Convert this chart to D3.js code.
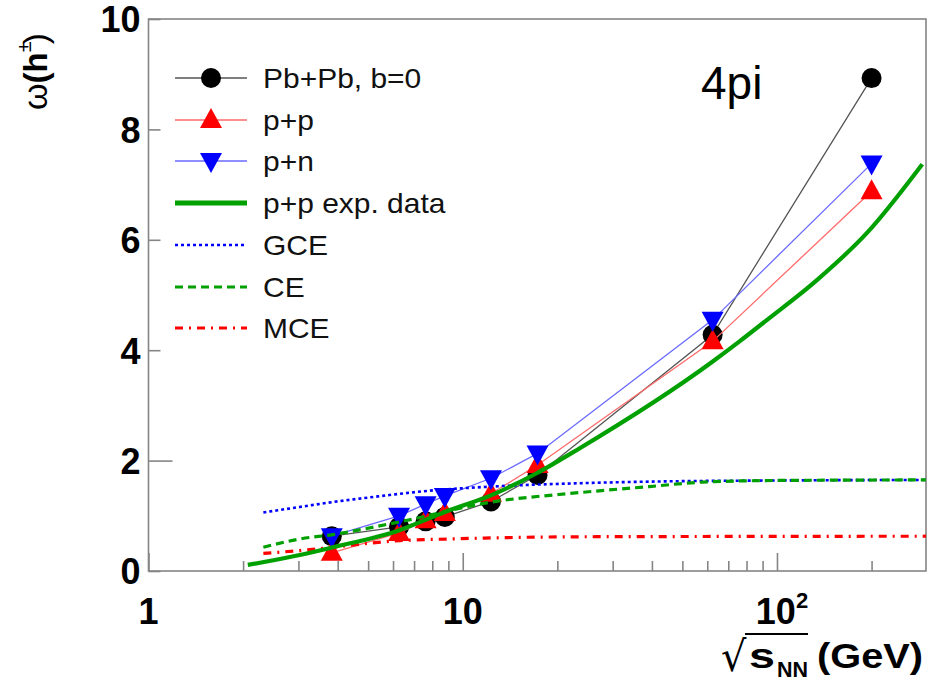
<!DOCTYPE html>
<html>
<head>
<meta charset="utf-8">
<script src="https://cdn.jsdelivr.net/npm/d3@7"></script>
<style>
  html, body { margin: 0; padding: 0; background: #fff; }
  svg { display: block; }
</style>
</head>
<body>
<svg id="chart" width="928" height="682"></svg>
<script>
// Collision energies (GeV) of the model points
const energies = [3.83, 6.27, 7.62, 8.77, 12.3, 17.3, 62.4, 200];
// Scaled variance of charged hadrons
const omegaPbPb = [0.63, 0.80, 0.90, 0.98, 1.26, 1.74, 4.28, 8.93];
const omegaPP   = [0.33, 0.69, 0.92, 1.05, 1.40, 1.92, 4.16, 6.88];
const omegaPN   = [0.63, 1.00, 1.21, 1.36, 1.68, 2.13, 4.55, 7.38];

// p+p experimental parametrisation
const ppExpEnergies = [2.07, 3.03, 3.86, 6.29, 8.77, 12.4, 17.3, 23.5, 62.6, 76, 93, 134, 193, 290];
const ppExpOmega    = [0.11, 0.29, 0.43, 0.74, 1.07, 1.38, 1.78, 2.22, 3.80, 4.16, 4.55, 5.27, 6.12, 7.37];

// Statistical ensembles
const gceEnergies = [2.32, 3.03, 3.86, 5.0, 8.03, 12.4, 23.5, 40, 100, 298];
const gceOmega    = [1.06, 1.16, 1.25, 1.33, 1.46, 1.53, 1.59, 1.62, 1.64, 1.65];
const ceEnergies  = [2.32, 3.03, 3.86, 6.29, 12.4, 23.5, 39.3, 57.9, 100, 298];
const ceOmega     = [0.43, 0.58, 0.66, 0.89, 1.25, 1.42, 1.53, 1.61, 1.64, 1.65];
const mceEnergies = [2.32, 3.03, 3.86, 5.0, 6.29, 9.0, 12.4, 23.5, 298];
const mceOmega    = [0.32, 0.37, 0.43, 0.50, 0.55, 0.58, 0.60, 0.62, 0.63];

// Axis ticks
const yTicks = [0, 2, 4, 6, 8, 10];
const xMajorTicks = [1, 10, 100];
const xMinorTicks = [2, 3, 4, 5, 6, 7, 8, 9, 20, 30, 40, 50, 60, 70, 80, 90, 200];

const legendLabels = ["Pb+Pb, b=0", "p+p", "p+n", "p+p exp. data", "GCE", "CE", "MCE"];

const svg = d3.select("#chart");
const frame = { left: 148.5, right: 926, top: 19, bottom: 571 };

const x = d3.scaleLog().domain([1, 298]).range([frame.left, frame.right]);
const y = d3.scaleLinear().domain([0, 10]).range([frame.bottom, frame.top]);

const FONT = "'Liberation Sans', Arial, Helvetica, sans-serif";
const frameColor = "#858585";

// frame
svg.append("rect")
  .attr("x", frame.left).attr("y", frame.top)
  .attr("width", frame.right - frame.left).attr("height", frame.bottom - frame.top)
  .attr("fill", "none").attr("stroke", frameColor).attr("stroke-width", 1.6);

// y axis (ticks inside, labels outside)
const yAxis = d3.axisLeft(y).tickValues(yTicks).tickSizeInner(-12).tickSizeOuter(0)
  .tickPadding(20).tickFormat(d3.format("d"));
const gy = svg.append("g").attr("transform", `translate(${frame.left},0)`).call(yAxis);
gy.select(".domain").remove();
gy.selectAll(".tick line").attr("stroke", frameColor).attr("stroke-width", 1.6)
  .filter(d => d === 2).attr("x2", 24);
gy.selectAll(".tick text")
  .attr("font-family", FONT).attr("font-weight", "bold").attr("font-size", 36)
  .attr("fill", "#000").attr("x", -8).attr("dy", "0.36em");

// x axis major/minor ticks pointing up into the frame
const xAxisMajor = d3.axisBottom(x).tickValues(xMajorTicks).tickSizeInner(-18).tickSizeOuter(0).tickFormat("");
const gxM = svg.append("g").attr("transform", `translate(0,${frame.bottom})`).call(xAxisMajor);
gxM.select(".domain").remove();
gxM.selectAll(".tick line").attr("stroke", frameColor).attr("stroke-width", 1.6);

const xAxisMinor = d3.axisBottom(x).tickValues(xMinorTicks).tickSizeInner(-10).tickSizeOuter(0).tickFormat("");
const gxm = svg.append("g").attr("transform", `translate(0,${frame.bottom})`).call(xAxisMinor);
gxm.select(".domain").remove();
gxm.selectAll(".tick line").attr("stroke", frameColor).attr("stroke-width", 1.6);

// x tick labels: 1, 10, 10^2
const xLab = svg.append("g").attr("font-family", FONT).attr("font-weight", "bold")
  .attr("font-size", 36).attr("fill", "#000");
xMajorTicks.forEach(v => {
  const exp = Math.round(Math.log10(v));
  const t = xLab.append("text").attr("y", 624).attr("text-anchor", "middle");
  if (exp < 2) {
    t.attr("x", x(v)).text(String(v));
  } else {
    t.attr("x", x(v) + 5);
    t.append("tspan").text("10");
    t.append("tspan").attr("font-size", 22).attr("dy", -16).text(String(exp));
  }
});

// x axis title: sqrt(s_NN) (GeV)
const xt = svg.append("g").attr("fill", "#000");
xt.append("text")
  .attr("font-family", "'DejaVu Sans', sans-serif").attr("font-size", 42)
  .attr("transform", "translate(721,671) scale(0.95,1)")
  .text("√");
xt.append("line").attr("x1", 745).attr("x2", 808).attr("y1", 634).attr("y2", 634)
  .attr("stroke", "#000").attr("stroke-width", 2.2);
const xtitle = xt.append("text")
  .attr("font-family", FONT).attr("font-weight", "bold").attr("font-size", 35);
xtitle.append("tspan").attr("x", 749).attr("y", 668)
  .attr("textLength", 26).attr("lengthAdjust", "spacingAndGlyphs").text("s");
xtitle.append("tspan").attr("x", 777).attr("y", 677).attr("font-size", 22)
  .attr("textLength", 31).attr("lengthAdjust", "spacingAndGlyphs").text("NN");
xtitle.append("tspan").attr("x", 817).attr("y", 668)
  .attr("textLength", 106).attr("lengthAdjust", "spacingAndGlyphs").text("(GeV)");

// y axis title: omega(h^±), reading bottom to top
const ytitle = svg.append("text")
  .attr("transform", "translate(47,110) rotate(-90)")
  .attr("x", 0).attr("y", 0)
  .attr("font-family", FONT).attr("font-size", 31).attr("fill", "#000");
ytitle.append("tspan").attr("font-size", 34).text("ω");
ytitle.append("tspan").attr("font-weight", "bold").attr("font-size", 33).text("(h");
ytitle.append("tspan").attr("font-size", 20).attr("dy", -16).attr("dx", 0).text("±");
ytitle.append("tspan").attr("dy", 16).attr("dx", -3).attr("font-size", 33).text(")");

// "4pi" annotation
svg.append("text").attr("x", 701).attr("y", 99)
  .attr("font-family", FONT).attr("font-size", 46).attr("fill", "#000").text("4pi");

// ---- data series ----
const plot = svg.append("g");
const linePx = d3.line().x(d => d[0]).y(d => d[1]);
const curvePx = d3.line().x(d => d[0]).y(d => d[1]).curve(d3.curveMonotoneX);

function pts(xs, ys) { return xs.map((e, i) => [x(e), y(ys[i])]); }

const triUp = s => `M0,${-s * 0.6}L${s * 0.55},${s * 0.4}L${-s * 0.55},${s * 0.4}Z`;
const triDown = s => `M0,${s * 0.6}L${s * 0.55},${-s * 0.4}L${-s * 0.55},${-s * 0.4}Z`;

function drawMarker(g, type, cx, cy, color) {
  if (type === "circle") {
    g.append("circle").attr("cx", cx).attr("cy", cy).attr("r", 10).attr("fill", color);
  } else {
    g.append("path").attr("d", type === "up" ? triUp(20) : triDown(20))
      .attr("transform", `translate(${cx},${cy})`).attr("fill", color);
  }
}

const series = [
  { vals: omegaPbPb, line: "#555", marker: "circle", color: "#000" },
  { vals: omegaPP,   line: "#ff6a6a", marker: "up", color: "#ff0000" },
  { vals: omegaPN,   line: "#6a6aff", marker: "down", color: "#0000ff" }
];

series.forEach(s => {
  const p = pts(energies, s.vals);
  plot.append("path").attr("d", linePx(p)).attr("fill", "none")
    .attr("stroke", s.line).attr("stroke-width", 1.3);
  p.forEach(q => drawMarker(plot, s.marker, q[0], q[1], s.color));
});

const curves = [
  { xs: gceEnergies, ys: gceOmega, color: "#0000ff", width: 2.6, dash: "3,3" },
  { xs: ceEnergies,  ys: ceOmega,  color: "#00a000", width: 3.2, dash: "8,5" },
  { xs: mceEnergies, ys: mceOmega, color: "#ff0000", width: 3.2, dash: "8,6,2,6" },
  { xs: ppExpEnergies, ys: ppExpOmega, color: "#00a000", width: 4.2, dash: null }
];
curves.forEach(c => {
  const p = plot.append("path").attr("d", curvePx(pts(c.xs, c.ys))).attr("fill", "none")
    .attr("stroke", c.color).attr("stroke-width", c.width);
  if (c.dash) p.attr("stroke-dasharray", c.dash);
});

// ---- legend ----
const legendRowsY = [78, 120, 161, 203, 245, 287, 328];
const leg = svg.append("g");
const legItems = [
  { kind: "marker", line: "#555", marker: "circle", color: "#000" },
  { kind: "marker", line: "#ff6a6a", marker: "up", color: "#ff0000" },
  { kind: "marker", line: "#6a6aff", marker: "down", color: "#0000ff" },
  { kind: "curve", color: "#00a000", width: 5, dash: null },
  { kind: "curve", color: "#0000ff", width: 2.6, dash: "3,3" },
  { kind: "curve", color: "#00a000", width: 3.2, dash: "8,5" },
  { kind: "curve", color: "#ff0000", width: 3.2, dash: "8,6,2,6" }
];
legItems.forEach((it, i) => {
  const ly = legendRowsY[i];
  const l = leg.append("line").attr("x1", 175).attr("x2", 247).attr("y1", ly).attr("y2", ly);
  if (it.kind === "marker") {
    l.attr("stroke", it.line).attr("stroke-width", 1.3);
    drawMarker(leg, it.marker, 211, ly, it.color);
  } else {
    l.attr("stroke", it.color).attr("stroke-width", it.width);
    if (it.dash) l.attr("stroke-dasharray", it.dash);
  }
  leg.append("text").attr("transform", `translate(263,${ly}) scale(1.11,1)`)
    .attr("dy", "0.36em")
    .attr("font-family", FONT).attr("font-size", 27).attr("fill", "#111")
    .text(legendLabels[i]);
});
</script>
</body>
</html>
